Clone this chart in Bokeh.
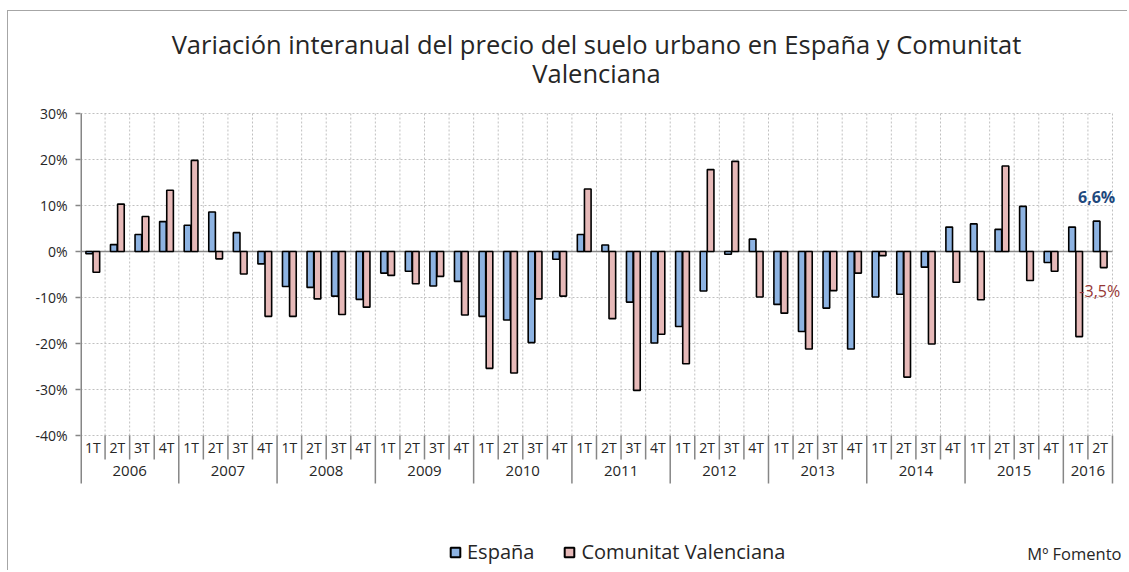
import numpy as np
from bokeh.plotting import figure
from bokeh.models import ColumnDataSource, Range1d, FixedTicker, Legend, LegendItem, Label
from bokeh.core.properties import value
from bokeh.transform import dodge
from bokeh.embed import file_html
from bokeh.resources import INLINE

# ---------------- data ----------------
years = ["2006", "2007", "2008", "2009", "2010", "2011", "2012", "2013", "2014", "2015", "2016"]
quarters = ["1T", "2T", "3T", "4T"]
quarters_per_year = [4, 4, 4, 4, 4, 4, 4, 4, 4, 4, 2]

espana = [
    -0.5, 1.5, 3.7, 6.5,
    5.7, 8.6, 4.1, -2.7,
    -7.6, -7.8, -9.7, -10.4,
    -4.7, -4.3, -7.5, -6.5,
    -14.1, -14.9, -19.8, -1.7,
    3.7, 1.4, -11.0, -19.9,
    -16.3, -8.6, -0.6, 2.7,
    -11.5, -17.4, -12.3, -21.2,
    -9.9, -9.3, -3.4, 5.3,
    6.0, 4.8, 9.8, -2.4,
    5.3, 6.6,
]
valenciana = [
    -4.5, 10.3, 7.6, 13.3,
    19.8, -1.6, -4.9, -14.1,
    -14.1, -10.3, -13.7, -12.1,
    -5.2, -7.0, -5.4, -13.8,
    -25.4, -26.4, -10.3, -9.7,
    13.6, -14.6, -30.2, -18.0,
    -24.4, 17.8, 19.6, -9.9,
    -13.4, -21.2, -8.5, -4.7,
    -0.9, -27.3, -20.1, -6.7,
    -10.5, 18.6, -6.3, -4.3,
    -18.5, -3.5,
]
y_ticks = [-40, -30, -20, -10, 0, 10, 20, 30]
series_names = ["España", "Comunitat Valenciana"]
title_lines = ["Variación interanual del precio del suelo urbano en España y Comunitat",
               "Valenciana"]
source_note = "Mº Fomento"

# ---------------- styling ----------------
FONT = "Open Sans"
TXT = "#262626"
AXIS = "#868686"
GRID = "#c0c0c0"
BLUE = "#8db3e2"
PINK = "#e6b9b8"
BLUE_DARK = "#1f497d"
RED_DARK = "#953735"

q_labels = [quarters[j] for nq in quarters_per_year for j in range(nq)]
n = len(q_labels)
xc = np.arange(n) + 0.5

# geometry (pixels): canvas starts at page (8, 11); value axis at x=80,
# 30% at y=113, 0% at y=251
W, H = 1120, 560
left_px = 72
cat_px = 24.571          # pixels per category
pct_px = 4.6             # pixels per percentage point
frame_w = W - left_px
x_max = frame_w / cat_px
y_max = y_ticks[-1] + (113 - 11) / pct_px
y_min = y_max - H / pct_px


def y_at(py):
    """value at page pixel row py"""
    return (251 - py) / pct_px


src = ColumnDataSource(dict(x=xc, esp=espana, val=valenciana, q=q_labels))

p = figure(width=W, height=H, output_backend="svg", toolbar_location=None,
           x_range=Range1d(0, x_max), y_range=Range1d(y_min, y_max),
           x_axis_type=None, min_border_left=left_px, min_border_right=0,
           min_border_top=0, min_border_bottom=0, tools="", title=None)
p.styles = {"margin-left": "7px", "margin-top": "10px",
            "border-top": "1px solid #a6a6a6", "border-left": "1px solid #a6a6a6"}
p.outline_line_color = None
p.background_fill_color = "white"
p.border_fill_color = "white"

# y axis (labels and ticks); the axis line itself is drawn as a segment below
p.yaxis.ticker = FixedTicker(ticks=y_ticks)
p.yaxis.major_label_overrides = {t: f"{t}%" for t in y_ticks}
p.yaxis.minor_tick_line_color = None
p.yaxis.major_tick_in = 0
p.yaxis.major_tick_out = 5
p.yaxis.major_tick_line_color = AXIS
p.yaxis.major_tick_line_width = 1.5
p.yaxis.axis_line_color = None
p.yaxis.major_label_text_font = FONT
p.yaxis.major_label_text_font_size = "14px"
p.yaxis.major_label_text_color = TXT
p.yaxis.major_label_standoff = 8
p.yaxis.bounds = (y_ticks[0], y_ticks[-1])

p.xgrid.visible = False
p.ygrid.visible = False

# title
p.text(x=[n / 2, n / 2], y=[y_at(43), y_at(72)], text=title_lines, text_font=value(FONT),
       text_font_size="25.5px", text_color=TXT, text_align="center", text_baseline="middle")

# horizontal dotted grid
p.segment(x0=[0] * len(y_ticks), y0=y_ticks, x1=[n] * len(y_ticks), y1=y_ticks,
          line_color=GRID, line_dash="2 2", line_width=1)
# vertical dotted grid at category boundaries
vb = np.arange(1, n + 1)
p.segment(x0=vb, y0=[y_ticks[0]] * n, x1=vb, y1=[y_ticks[-1]] * n,
          line_color=GRID, line_dash="2 2", line_width=1)

# y axis line (at the frame edge, width doubled since half is clipped)
year_sep_bottom = y_at(483)
p.segment(x0=[0], y0=[year_sep_bottom], x1=[0], y1=[y_ticks[-1]], line_color=AXIS, line_width=3)

# category axis separators
year_edges = np.concatenate([[0], np.cumsum(quarters_per_year)])
inner = [b for b in range(1, n) if b not in set(year_edges.tolist())]
p.segment(x0=inner, y0=[y_ticks[0]] * len(inner), x1=inner, y1=[y_at(459)] * len(inner),
          line_color=AXIS, line_width=1.5)
ye = year_edges[1:]
p.segment(x0=ye, y0=[y_ticks[0]] * len(ye), x1=ye, y1=[year_sep_bottom] * len(ye),
          line_color=AXIS, line_width=1.5)

# zero line
p.segment(x0=[0], y0=[0], x1=[n], y1=[0], line_color=AXIS, line_width=1.5)

# bars
r1 = p.vbar(x=dodge("x", -0.145), top="esp", bottom=0, width=0.27, source=src,
            fill_color=BLUE, line_color="black", line_width=1.6)
r2 = p.vbar(x=dodge("x", 0.145), top="val", bottom=0, width=0.27, source=src,
            fill_color=PINK, line_color="black", line_width=1.6)

# legend swatches (square markers with no drawable position)
nan_src = ColumnDataSource(dict(x=[np.nan], y=[np.nan]))
l1 = p.scatter(x="x", y="y", source=nan_src, marker="square", size=10,
               fill_color=BLUE, line_color="black", line_width=2)
l2 = p.scatter(x="x", y="y", source=nan_src, marker="square", size=10,
               fill_color=PINK, line_color="black", line_width=2)

# quarter and year labels
p.text(x="x", y=y_at(447), text="q", source=src, text_font=value(FONT), text_font_size="14px",
       text_color=TXT, text_align="center", text_baseline="middle")
year_centers = (year_edges[:-1] + year_edges[1:]) / 2
p.text(x=year_centers, y=[y_at(470)] * len(years), text=years, text_font=value(FONT),
       text_font_size="15px", text_color=TXT, text_align="center", text_baseline="middle")

# data labels for last quarter
fmt = lambda v: f"{v:.1f}%".replace(".", ",")
p.add_layout(Label(x=xc[-1] - 0.145, y=espana[-1], text=fmt(espana[-1]), y_offset=13,
                   text_font=FONT, text_font_size="16px", text_font_style="bold",
                   text_color=BLUE_DARK, text_align="center", text_baseline="bottom"))
p.add_layout(Label(x=xc[-1] + 0.145, y=valenciana[-1], text=fmt(valenciana[-1]), y_offset=-12,
                   x_offset=-4, text_font=FONT, text_font_size="16px",
                   text_color=RED_DARK, text_align="center", text_baseline="top"))

# source note
p.add_layout(Label(x=(1121 - 80) / cat_px, y=y_at(553), text=source_note,
                   text_font=FONT, text_font_size="16.5px",
                   text_color=TXT, text_align="right", text_baseline="middle"))

# legend
legend = Legend(items=[LegendItem(label=series_names[0], renderers=[l1]),
                       LegendItem(label=series_names[1], renderers=[l2])],
                location=(363, 6), orientation="horizontal",
                glyph_width=24, glyph_height=24, label_standoff=0, spacing=23,
                padding=0, margin=0, border_line_color=None, background_fill_alpha=0,
                label_text_font=FONT, label_text_font_size="20px", label_text_color=TXT,
                label_height=24)
p.add_layout(legend)

open("out.html", "w").write(file_html(p, INLINE))
